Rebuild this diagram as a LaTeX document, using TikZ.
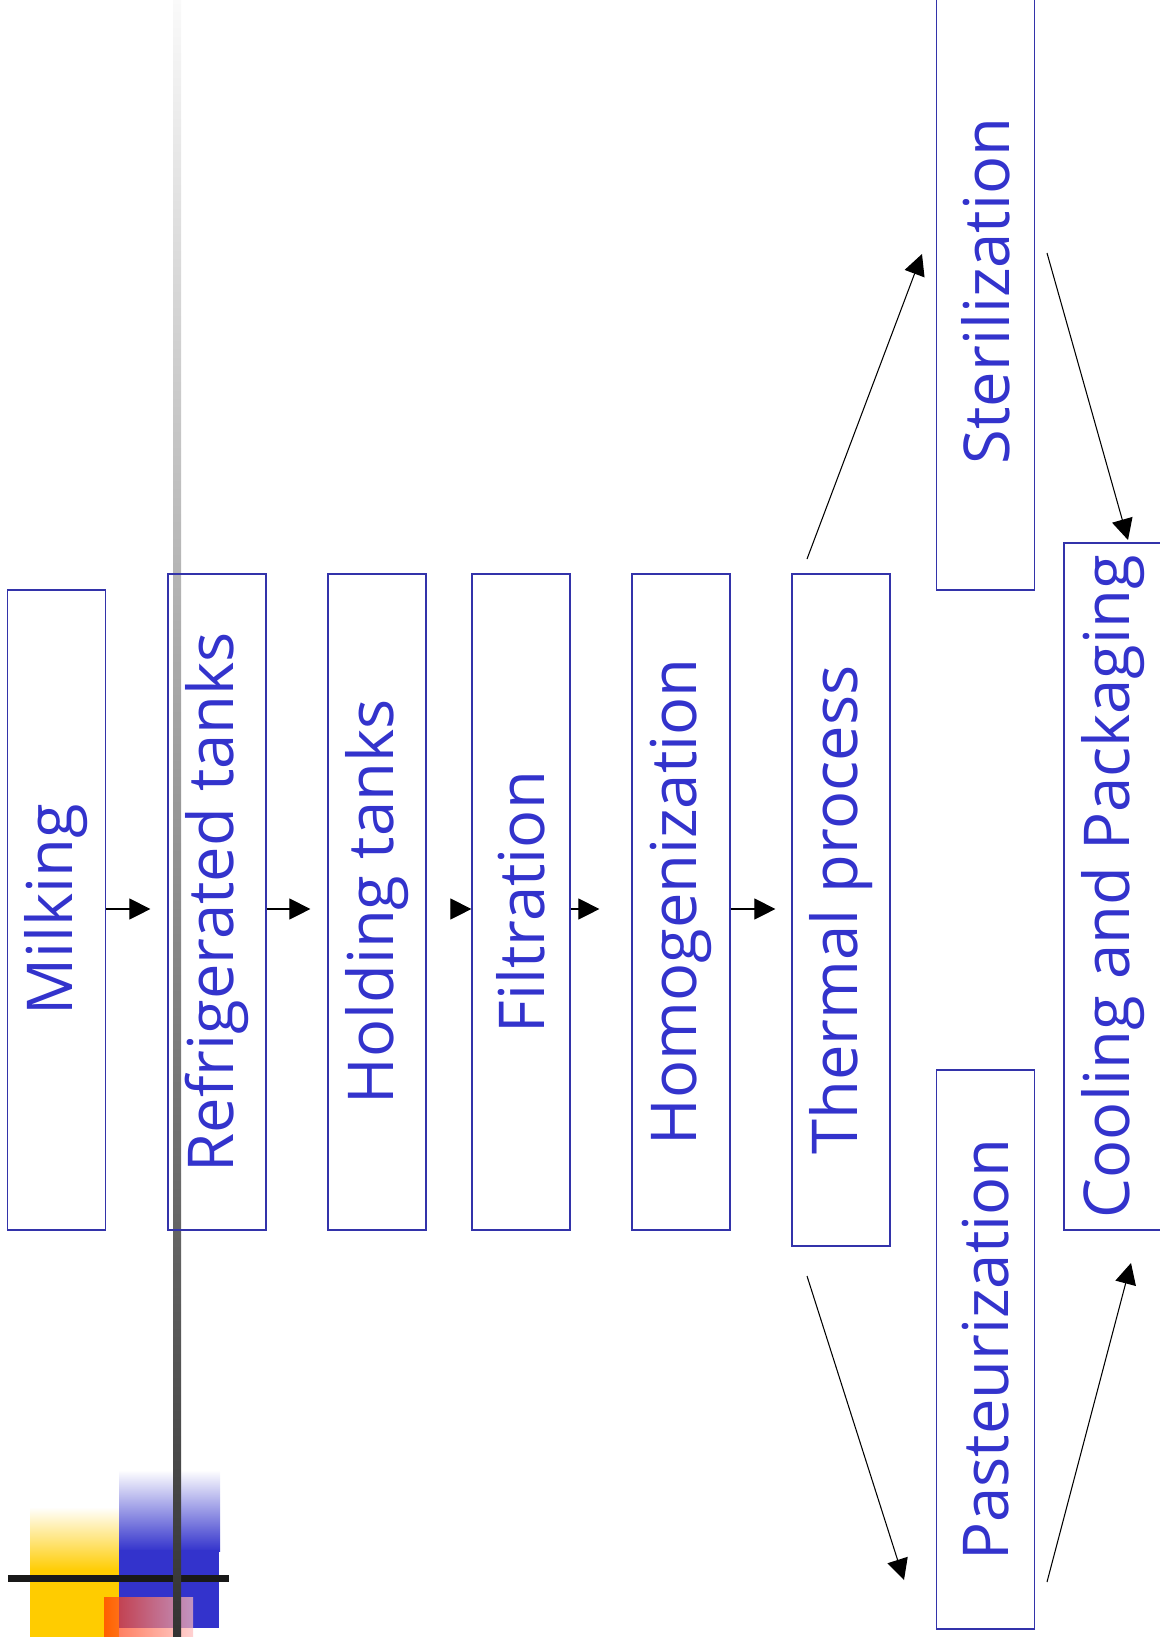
\documentclass[tikz,border=0pt]{standalone}
\usepackage{fontspec}
\setmainfont{Open Sans}
\usetikzlibrary{arrows.meta}
\definecolor{stepblue}{RGB}{51,51,204}
\definecolor{frameblue}{RGB}{51,51,170}
\definecolor{slideyellow}{RGB}{255,204,0}
\definecolor{slidered}{RGB}{255,51,0}
\definecolor{slidepink}{RGB}{255,190,190}

\begin{document}
\begin{tikzpicture}[x=0.02cm, y=-0.02cm,
    stepbox/.style={draw=frameblue, line width=0.7pt, rotate=90, text=stepblue,
        font=\fontsize{36}{40}\selectfont, inner sep=0pt, minimum height=1.96cm},
    flow/.style={-{Triangle[length=0.42cm, width=0.42cm]}, line width=0.6pt}]
    \useasboundingbox (0,0) rectangle (1160,1637);
    \clip (0,0) rectangle (1160,1637);

    % Ozdoba v rohu
    \shade[top color=white, bottom color=slideyellow] (30,1507) rectangle (119,1571);
    \fill[slideyellow] (30,1570) rectangle (119,1637);
    \shade[top color=white, bottom color=stepblue] (119,1470) rectangle (220,1551);
    \fill[stepblue] (119,1550) rectangle (219,1628);
    \shade[left color=slidered, right color=slidepink, opacity=0.7] (104,1597) rectangle (193,1637);
    \fill[black!90] (8,1575) rectangle (229,1582);
    \shade[top color=black!2, middle color=black!37, bottom color=black!80] (173,0) rectangle (181,1637);

    % Kroky zpracování
    \node[stepbox, minimum width=12.8cm] (milk) at (56.5,910) {Milking};
    \node[stepbox, minimum width=13.12cm] (refrig) at (217,902) {Refrigerated tanks};
    \node[stepbox, minimum width=13.12cm] (hold) at (377,902) {Holding tanks};
    \node[stepbox, minimum width=13.12cm] (filt) at (521,902) {Filtration};
    \node[stepbox, minimum width=13.12cm] (homog) at (681,902) {Homogenization};
    \node[stepbox, minimum width=13.44cm] (thermal) at (841,910) {Thermal process};

    % Větve ohřevu
    \node[stepbox, minimum width=11.96cm] (steril) at (985.5,291) {Sterilization};
    \node[stepbox, minimum width=11.18cm] (past) at (985.5,1349.5) {Pasteurization};
    \node[stepbox, minimum width=13.74cm] (cool) at (1113,886.5) {Cooling and Packaging};

    % Šipky v řadě
    \coordinate (row) at (0,909);
    \draw[flow, shorten >=0.34cm] (milk.south |- row) -- (refrig.north |- row);
    \draw[flow, shorten >=0.34cm] (refrig.south |- row) -- (hold.north |- row);
    \draw[flow, shorten <=0.48cm] (hold.south |- row) -- (filt.north |- row);
    \draw[flow, shorten >=0.64cm] (filt.south |- row) -- (homog.north |- row);
    \draw[flow, shorten >=0.32cm] (homog.south |- row) -- (thermal.north |- row);

    % Šipky k větvím
    \coordinate (up-out) at (807,559);
    \coordinate (up-in) at (922,254);
    \coordinate (down-out) at (807,1276);
    \coordinate (down-in) at (904,1580);
    \coordinate (steril-out) at (1047,253);
    \coordinate (cool-top) at (1128,540);
    \coordinate (past-out) at (1047,1582);
    \coordinate (cool-bottom) at (1131,1263);
    \draw[flow] (up-out) -- (up-in);
    \draw[flow] (down-out) -- (down-in);
    \draw[flow] (steril-out) -- (cool-top);
    \draw[flow] (past-out) -- (cool-bottom);
\end{tikzpicture}
\end{document}
